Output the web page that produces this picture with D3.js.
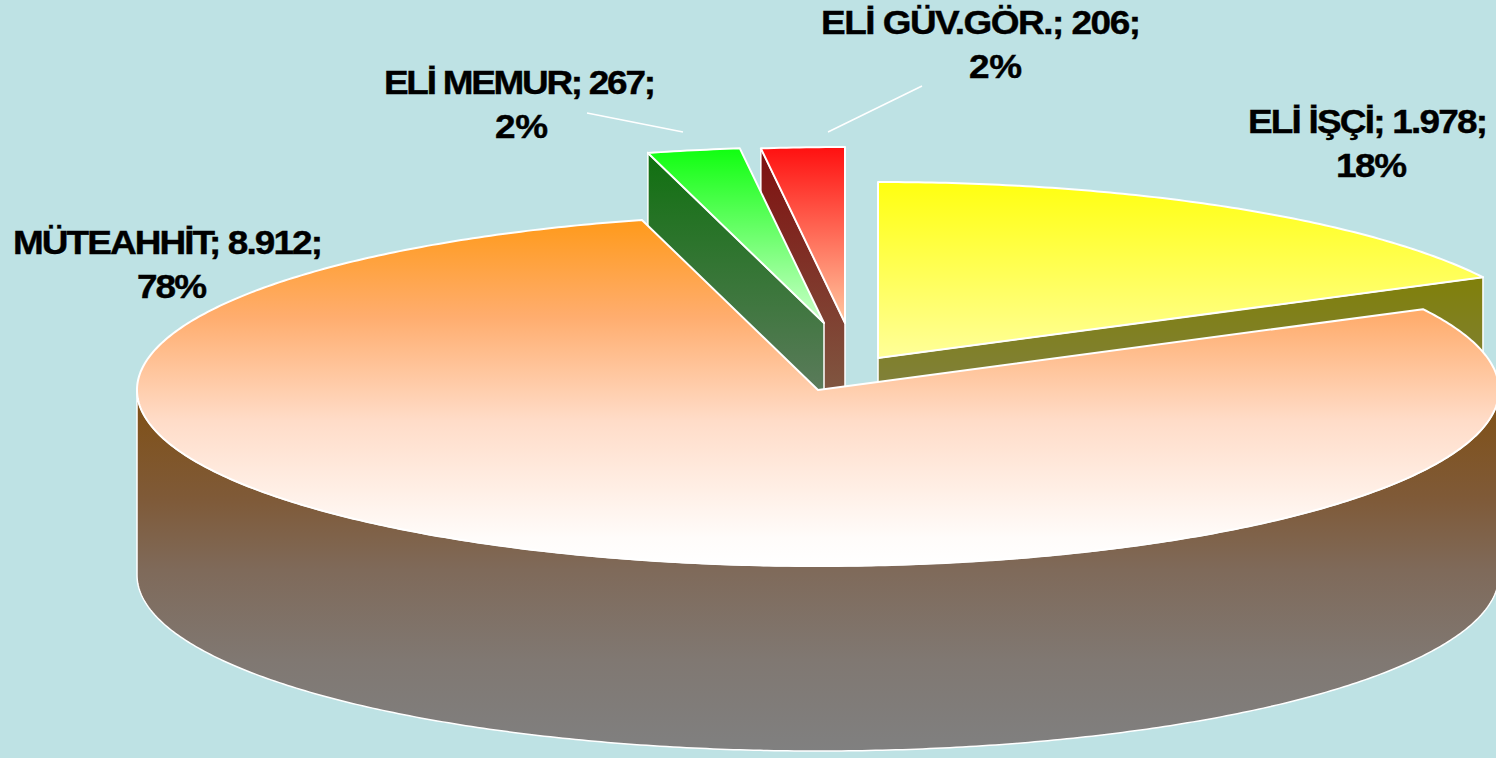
<!DOCTYPE html>
<html>
<head>
<meta charset="utf-8">
<script src="https://cdn.jsdelivr.net/npm/d3@7"></script>
<style>
html,body{margin:0;padding:0;background:#bee2e4;overflow:hidden}
svg{display:block}
text{font-family:"Liberation Sans",Arial,sans-serif;font-weight:bold;font-size:33px;fill:#000;stroke:#000;stroke-width:.4px}
</style>
</head>
<body>
<svg id="c" width="1496" height="758"></svg>
<script>
// --- data ---
const categories = ["ELİ İŞÇİ", "MÜTEAHHİT", "ELİ MEMUR", "ELİ GÜV.GÖR."];
const values = [1978, 8912, 267, 206];
const percents = [18, 78, 2, 2];

// --- styling / layout (per category, same order) ---
const topStops = [
  [[0, "#ffff10"], [1, "#ffff99"]],
  [[0, "#ff9a1a"], [.28, "#ffad6e"], [.58, "#ffdcc8"], [.92, "#fffcfa"], [1, "#ffffff"]],
  [[0, "#10ff10"], [1, "#ccffcc"]],
  [[0, "#ff1010"], [1, "#ffc8a0"]]
];
const sideStops = [
  [[0, "#80800a"], [1, "#808080"]],
  [[0, "#804f12"], [.3, "#7f5a38"], [.5, "#7f6a5a"], [.75, "#807872"], [1, "#808080"]],
  [[0, "#107010"], [1, "#808080"]],
  [[0, "#7f0f0f"], [1, "#807959"]]
];
const explodeX = [60, 0, 6, 27];
const explodeY = [-32, 0, -67, -67];
const labelX = [1248, 13, 384, 821];
const labelW = [240, 310, 272, 320];
const labelY = [133, 254, 94, 34];
const pctX = [1336, 137, 495, 969];
const pctW = [71, 70, 53, 53];
const pctY = [177, 298, 138, 78];
const textStretch = 1.12;
const leaders = [null, null, [[587,113],[683,132]], [[922,86],[828,132]]];
const drawOrder = [3, 2, 0, 1];
// the drawn boundary between the two small slices sits slightly left of its exact share
const boundaryNudge = 0.01;

const W = 1496, H = 758;
const cx = 818, cy = 390, rx = 681, ry = 176, depth = 185;

const svg = d3.select("#c");
svg.append("rect").attr("width", W).attr("height", H).attr("fill", "#bee2e4");
const defs = svg.append("defs");

const fmt = d3.formatLocale({decimal: ",", thousands: ".", grouping: [3], currency: ["", ""]}).format(",d");
const pie = d3.pie().sort(null).startAngle(0).endAngle(2 * Math.PI);
const arcs = pie(values);
arcs[2].endAngle -= boundaryNudge;
arcs[3].startAngle -= boundaryNudge;

const sx = d3.scaleLinear().domain([-1, 1]).range([cx - rx, cx + rx]);
const sy = d3.scaleLinear().domain([-1, 1]).range([cy + ry, cy - ry]);
const line = d3.line();

function rim(a0, a1, i) {
  const n = Math.max(2, Math.ceil((a1 - a0) / 0.01));
  return d3.range(n + 1).map(k => {
    const a = a0 + (a1 - a0) * k / n;
    return [sx(Math.sin(a)) + explodeX[i], sy(Math.cos(a)) + explodeY[i]];
  });
}
function grad(id, stops) {
  const g = defs.append("linearGradient").attr("id", id)
    .attr("x1", 0).attr("y1", 0).attr("x2", 0).attr("y2", 1);
  stops.forEach(s => g.append("stop").attr("offset", s[0]).attr("stop-color", s[1]));
  return `url(#${id})`;
}
const down = p => [p[0], p[1] + depth];

drawOrder.forEach(i => {
  const d = arcs[i];
  const apex = [sx(0) + explodeX[i], sy(0) + explodeY[i]];
  const edge = rim(d.startAngle, d.endAngle, i);
  const g = svg.append("g");
  const sideFill = grad("side" + i, sideStops[i]);

  if (i === 1) {
    const front = rim(Math.PI / 2, 3 * Math.PI / 2, i);
    g.append("path")
      .attr("d", line(front.concat(front.map(down).reverse())) + "Z")
      .attr("fill", sideFill).attr("stroke", "#fff").attr("stroke-width", 1.5);
  } else {
    const corner = i === 0 ? edge[edge.length - 1] : edge[0];
    g.append("path")
      .attr("d", line([corner, apex, down(apex), down(corner)]) + "Z")
      .attr("fill", sideFill).attr("stroke", "#fff").attr("stroke-width", 1.5);
  }
  g.append("path")
    .attr("d", line([apex].concat(edge)) + "Z")
    .attr("fill", grad("top" + i, topStops[i]))
    .attr("stroke", "#fff").attr("stroke-width", 2).attr("stroke-linejoin", "round");
});

leaders.forEach(l => {
  if (l) svg.append("path").attr("d", line(l)).attr("stroke", "#fff").attr("stroke-width", 1.5).attr("fill", "none");
});

function label(x, y, w, s) {
  svg.append("text")
    .attr("transform", `translate(${x},${y}) scale(${textStretch},1)`)
    .attr("textLength", w / textStretch).attr("lengthAdjust", "spacing")
    .text(s);
}
categories.forEach((c, i) => {
  label(labelX[i], labelY[i], labelW[i], `${c}; ${fmt(values[i])};`);
  label(pctX[i], pctY[i], pctW[i], `${percents[i]}%`);
});
</script>
</body>
</html>
